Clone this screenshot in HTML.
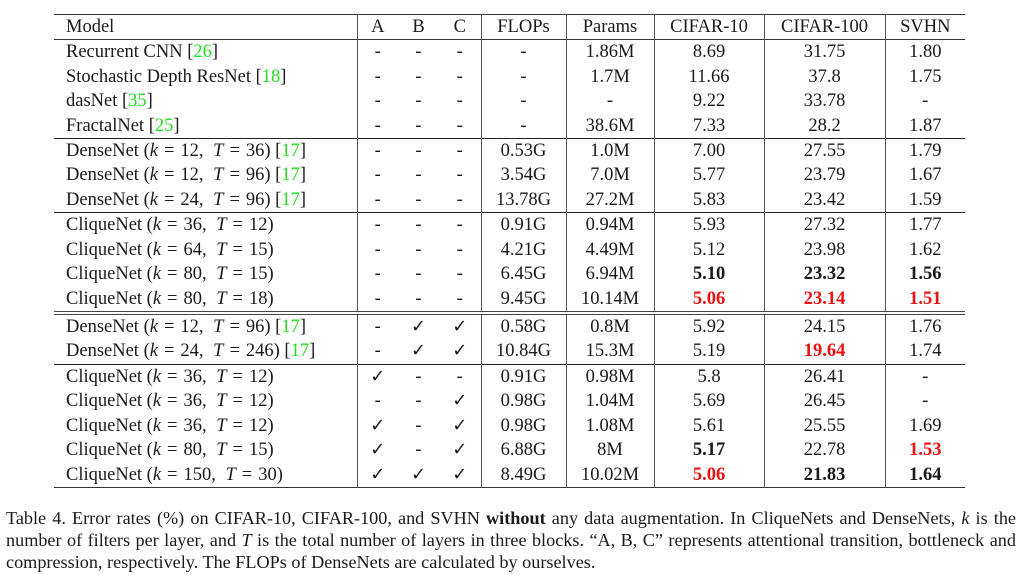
<!DOCTYPE html>
<html><head><meta charset="utf-8">
<style>
html,body{margin:0;padding:0;background:#fff;}
body{width:1024px;height:575px;position:relative;overflow:hidden;font-family:"Liberation Serif","DejaVu Serif",serif;color:#1a1a1a;}
table{position:absolute;left:54px;top:14px;border-collapse:collapse;table-layout:fixed;width:911px;font-size:18.5px;}
td,th{padding:0;height:24.45px;line-height:22px;text-align:center;font-weight:normal;white-space:nowrap;}
th{height:24px;}
td.m,th.m{text-align:left;padding-left:12px;}
.vl{border-left:1px solid #555;}
thead tr{border-top:1.5px solid #333;border-bottom:1px solid #333;}
tbody.s{border-top:1px solid #222;}
tbody.d{border-top:4px double #444;}
tbody.last{border-bottom:1.5px solid #333;}
.g{color:#22dd22;}
.r{color:#ee1111;font-weight:bold;}
.b{font-weight:bold;}
.ck{font-family:"DejaVu Sans",sans-serif;font-size:18px;}
.eq{padding:0 6px;}
.cm{padding-right:5px;}
#cap{position:absolute;left:6px;top:507px;width:1010px;font-size:18.2px;line-height:22px;}
#cap div{white-space:nowrap;}
#cap .j{text-align:justify;text-align-last:justify;white-space:normal;}
</style></head><body>
<table>
<colgroup><col style="width:303px"><col style="width:41px"><col style="width:41px"><col style="width:42px"><col style="width:85px"><col style="width:88px"><col style="width:110px"><col style="width:121px"><col style="width:80px"></colgroup>
<thead><tr>
<th class="m">Model</th><th class="vl">A</th><th>B</th><th>C</th><th class="vl">FLOPs</th><th class="vl">Params</th><th class="vl">CIFAR-10</th><th class="vl">CIFAR-100</th><th class="vl">SVHN</th></tr></thead>
<tbody class="s">
<tr><td class="m">Recurrent CNN [<span class="g">26</span>]</td><td class="vl">-</td><td>-</td><td>-</td><td class="vl">-</td><td class="vl">1.86M</td><td class="vl">8.69</td><td class="vl">31.75</td><td class="vl">1.80</td></tr>
<tr><td class="m">Stochastic Depth ResNet [<span class="g">18</span>]</td><td class="vl">-</td><td>-</td><td>-</td><td class="vl">-</td><td class="vl">1.7M</td><td class="vl">11.66</td><td class="vl">37.8</td><td class="vl">1.75</td></tr>
<tr><td class="m">dasNet [<span class="g">35</span>]</td><td class="vl">-</td><td>-</td><td>-</td><td class="vl">-</td><td class="vl">-</td><td class="vl">9.22</td><td class="vl">33.78</td><td class="vl">-</td></tr>
<tr><td class="m">FractalNet [<span class="g">25</span>]</td><td class="vl">-</td><td>-</td><td>-</td><td class="vl">-</td><td class="vl">38.6M</td><td class="vl">7.33</td><td class="vl">28.2</td><td class="vl">1.87</td></tr>
</tbody>
<tbody class="s">
<tr><td class="m">DenseNet (<i>k</i><span class="eq">=</span>12,<span class="cm"></span> <i>T</i><span class="eq">=</span>36) [<span class="g">17</span>]</td><td class="vl">-</td><td>-</td><td>-</td><td class="vl">0.53G</td><td class="vl">1.0M</td><td class="vl">7.00</td><td class="vl">27.55</td><td class="vl">1.79</td></tr>
<tr><td class="m">DenseNet (<i>k</i><span class="eq">=</span>12,<span class="cm"></span> <i>T</i><span class="eq">=</span>96) [<span class="g">17</span>]</td><td class="vl">-</td><td>-</td><td>-</td><td class="vl">3.54G</td><td class="vl">7.0M</td><td class="vl">5.77</td><td class="vl">23.79</td><td class="vl">1.67</td></tr>
<tr><td class="m">DenseNet (<i>k</i><span class="eq">=</span>24,<span class="cm"></span> <i>T</i><span class="eq">=</span>96) [<span class="g">17</span>]</td><td class="vl">-</td><td>-</td><td>-</td><td class="vl">13.78G</td><td class="vl">27.2M</td><td class="vl">5.83</td><td class="vl">23.42</td><td class="vl">1.59</td></tr>
</tbody>
<tbody class="s">
<tr><td class="m">CliqueNet (<i>k</i><span class="eq">=</span>36,<span class="cm"></span> <i>T</i><span class="eq">=</span>12)</td><td class="vl">-</td><td>-</td><td>-</td><td class="vl">0.91G</td><td class="vl">0.94M</td><td class="vl">5.93</td><td class="vl">27.32</td><td class="vl">1.77</td></tr>
<tr><td class="m">CliqueNet (<i>k</i><span class="eq">=</span>64,<span class="cm"></span> <i>T</i><span class="eq">=</span>15)</td><td class="vl">-</td><td>-</td><td>-</td><td class="vl">4.21G</td><td class="vl">4.49M</td><td class="vl">5.12</td><td class="vl">23.98</td><td class="vl">1.62</td></tr>
<tr><td class="m">CliqueNet (<i>k</i><span class="eq">=</span>80,<span class="cm"></span> <i>T</i><span class="eq">=</span>15)</td><td class="vl">-</td><td>-</td><td>-</td><td class="vl">6.45G</td><td class="vl">6.94M</td><td class="vl b">5.10</td><td class="vl b">23.32</td><td class="vl b">1.56</td></tr>
<tr><td class="m">CliqueNet (<i>k</i><span class="eq">=</span>80,<span class="cm"></span> <i>T</i><span class="eq">=</span>18)</td><td class="vl">-</td><td>-</td><td>-</td><td class="vl">9.45G</td><td class="vl">10.14M</td><td class="vl r">5.06</td><td class="vl r">23.14</td><td class="vl r">1.51</td></tr>
</tbody>
<tbody class="d">
<tr><td class="m">DenseNet (<i>k</i><span class="eq">=</span>12,<span class="cm"></span> <i>T</i><span class="eq">=</span>96) [<span class="g">17</span>]</td><td class="vl">-</td><td class="ck">✓</td><td class="ck">✓</td><td class="vl">0.58G</td><td class="vl">0.8M</td><td class="vl">5.92</td><td class="vl">24.15</td><td class="vl">1.76</td></tr>
<tr><td class="m">DenseNet (<i>k</i><span class="eq">=</span>24,<span class="cm"></span> <i>T</i><span class="eq">=</span>246) [<span class="g">17</span>]</td><td class="vl">-</td><td class="ck">✓</td><td class="ck">✓</td><td class="vl">10.84G</td><td class="vl">15.3M</td><td class="vl">5.19</td><td class="vl r">19.64</td><td class="vl">1.74</td></tr>
</tbody>
<tbody class="s last">
<tr><td class="m">CliqueNet (<i>k</i><span class="eq">=</span>36,<span class="cm"></span> <i>T</i><span class="eq">=</span>12)</td><td class="vl ck">✓</td><td>-</td><td>-</td><td class="vl">0.91G</td><td class="vl">0.98M</td><td class="vl">5.8</td><td class="vl">26.41</td><td class="vl">-</td></tr>
<tr><td class="m">CliqueNet (<i>k</i><span class="eq">=</span>36,<span class="cm"></span> <i>T</i><span class="eq">=</span>12)</td><td class="vl">-</td><td>-</td><td class="ck">✓</td><td class="vl">0.98G</td><td class="vl">1.04M</td><td class="vl">5.69</td><td class="vl">26.45</td><td class="vl">-</td></tr>
<tr><td class="m">CliqueNet (<i>k</i><span class="eq">=</span>36,<span class="cm"></span> <i>T</i><span class="eq">=</span>12)</td><td class="vl ck">✓</td><td>-</td><td class="ck">✓</td><td class="vl">0.98G</td><td class="vl">1.08M</td><td class="vl">5.61</td><td class="vl">25.55</td><td class="vl">1.69</td></tr>
<tr><td class="m">CliqueNet (<i>k</i><span class="eq">=</span>80,<span class="cm"></span> <i>T</i><span class="eq">=</span>15)</td><td class="vl ck">✓</td><td>-</td><td class="ck">✓</td><td class="vl">6.88G</td><td class="vl">8M</td><td class="vl b">5.17</td><td class="vl">22.78</td><td class="vl r">1.53</td></tr>
<tr><td class="m">CliqueNet (<i>k</i><span class="eq">=</span>150,<span class="cm"></span> <i>T</i><span class="eq">=</span>30)</td><td class="vl ck">✓</td><td class="ck">✓</td><td class="ck">✓</td><td class="vl">8.49G</td><td class="vl">10.02M</td><td class="vl r">5.06</td><td class="vl b">21.83</td><td class="vl b">1.64</td></tr>
</tbody>
</table>
<div id="cap">
<div class="j">Table 4. Error rates (%) on CIFAR-10, CIFAR-100, and SVHN <b>without</b> any data augmentation. In CliqueNets and DenseNets, <i>k</i> is the</div>
<div class="j">number of filters per layer, and <i>T</i> is the total number of layers in three blocks. “A, B, C” represents attentional transition, bottleneck and</div>
<div>compression, respectively. The FLOPs of DenseNets are calculated by ourselves.</div>
</div>
</body></html>
